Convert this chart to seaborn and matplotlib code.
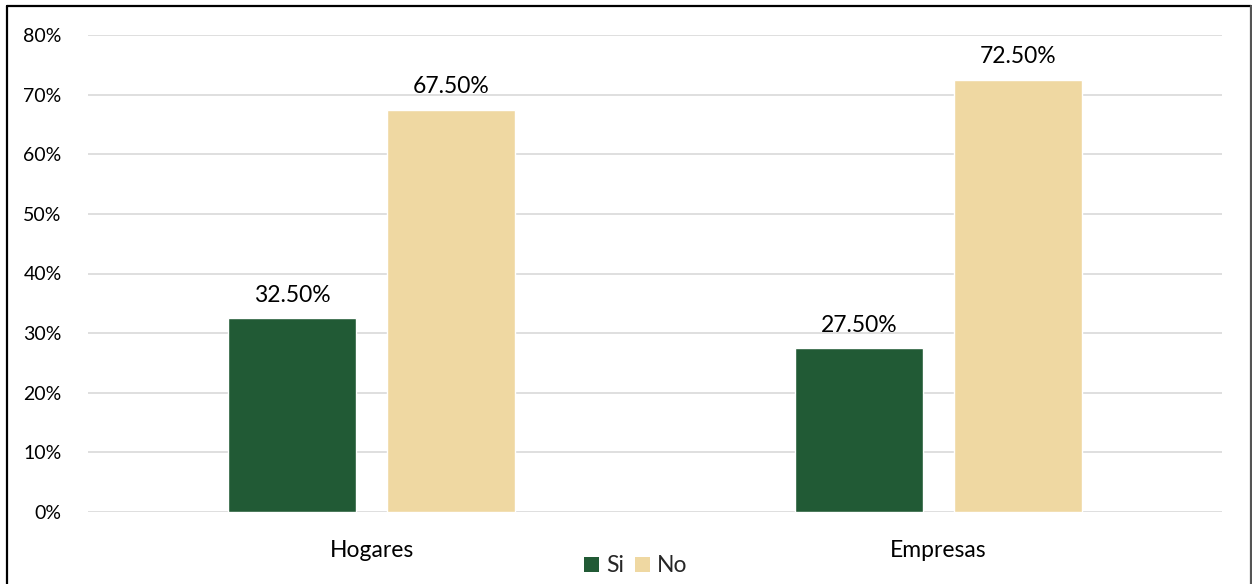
import matplotlib
matplotlib.use("Agg")
import matplotlib.pyplot as plt
from matplotlib.lines import Line2D
from matplotlib.patches import Patch
from matplotlib.ticker import PercentFormatter
import seaborn as sns
import pandas as pd

# Survey answers by group
categories = ["Hogares", "Empresas"]
si_values = [0.325, 0.275]
no_values = [0.675, 0.725]
series_names = ["Si", "No"]
ytick_values = [0.0, 0.1, 0.2, 0.3, 0.4, 0.5, 0.6, 0.7, 0.8]

df = pd.DataFrame({
    "grupo": categories * 2,
    "respuesta": [series_names[0]] * len(categories) + [series_names[1]] * len(categories),
    "valor": si_values + no_values,
})

sns.set_theme(style="white")
plt.rcParams["font.family"] = ["Lato", "DejaVu Sans"]

colors = {"Si": "#215a35", "No": "#efd8a2"}

fig = plt.figure(figsize=(12.52, 5.84), dpi=100)
ax = fig.add_axes([88 / 1252, 1 - 512 / 584, (1222 - 88) / 1252, (512 - 35) / 584])

sns.barplot(data=df, x="grupo", y="valor", hue="respuesta", order=categories,
            hue_order=series_names, palette=colors, width=0.562, gap=0.2,
            saturation=1, ax=ax, legend=False, zorder=3)

ax.set_ylim(0, 0.8)
ax.set_xlim(-0.5, 1.5)
ax.set_yticks(ytick_values)
ax.yaxis.set_major_formatter(PercentFormatter(1.0, decimals=0))
ax.grid(axis="y", color="#d9d9d9", linewidth=1.2, zorder=0)
ax.set_axisbelow(True)
for s in ax.spines.values():
    s.set_visible(False)
ax.tick_params(axis="both", length=0, colors="#000000")
ax.tick_params(axis="y", labelsize=14, pad=19)
ax.tick_params(axis="x", labelsize=16.5, pad=20)
ax.set_xlabel("")
ax.set_ylabel("")

# value labels above every bar
for container in ax.containers:
    ax.bar_label(container, labels=[f"{v * 100:.2f}%" for v in container.datavalues],
                 padding=9, fontsize=16.5, color="#000000")

handles = [Patch(facecolor=colors[n], edgecolor="none", label=n) for n in series_names]
fig.legend(handles=handles, loc="center", bbox_to_anchor=(636 / 1252, 1 - 566 / 584),
           ncol=2, frameon=False, fontsize=16.5, handlelength=0.65, handleheight=0.65,
           handletextpad=0.3, columnspacing=0.5, borderpad=0)

# outer chart frame
fig.add_artist(Line2D([6.5 / 1252, 6.5 / 1252], [0, 1 - 6 / 584], transform=fig.transFigure,
                      color="#000000", linewidth=1.6))
fig.add_artist(Line2D([6.5 / 1252, 1250.5 / 1252], [1 - 6 / 584, 1 - 6 / 584],
                      transform=fig.transFigure, color="#000000", linewidth=1.6))
fig.add_artist(Line2D([1250.5 / 1252, 1250.5 / 1252], [0, 1 - 6 / 584], transform=fig.transFigure,
                      color="#555555", linewidth=1.6))

fig.savefig("out.png", dpi=100)
